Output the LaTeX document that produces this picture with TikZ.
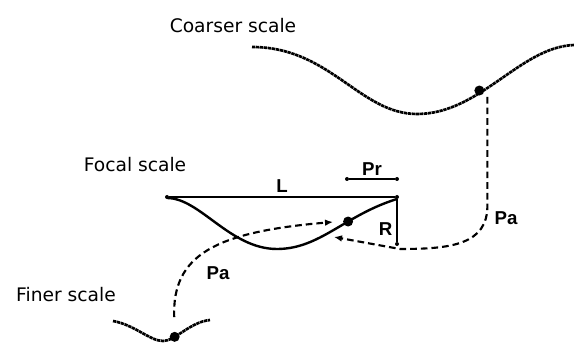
\documentclass[tikz,border=0pt]{standalone}
\usepackage{fontspec}
\setmainfont{DejaVu Sans}
\newfontfamily\labelfont{Liberation Sans}
\usepackage{tikz}
\usetikzlibrary{positioning,arrows.meta}

\begin{document}
\begin{tikzpicture}[x=0.75pt, y=-0.75pt,
  every node/.style={font=\fontsize{14}{16}\selectfont},
  scaletext/.style={inner sep=0pt},
  sym/.style={font=\labelfont\fontsize{14}{16}\selectfont\bfseries, inner sep=1pt},
  blob/.style={circle, fill, inner sep=0pt, minimum size=7.5pt},
  tick/.style={circle, fill, inner sep=0pt, minimum size=3pt},
  grainy/.style={line width=2pt, dash pattern=on 2.5pt off 0.5pt},
  jump/.style={line width=1.6pt, dash pattern=on 5pt off 3pt, -{Latex[length=6pt,width=5pt]}}]
\useasboundingbox (0,0) rectangle (574,345);

% scale names
\node[scaletext] (coarser) at (233,26) {Coarser scale};
\node[scaletext] (focal) at (135,165) {Focal scale};
\node[scaletext] (finer) at (66,295) {Finer scale};

% the three signals
\draw[grainy] (252,47) .. controls (330,47) and (360,114) .. (417,114)
  .. controls (480,114) and (520,47) .. (574,45) node[blob, pos=0.37, yshift=2pt] (coarsedot) {};
\draw[line width=1.8pt] (167,198) .. controls (200,198) and (230,249) .. (277,249)
  .. controls (320,249) and (345,215) .. (397,199) node[blob, pos=0.63] (focaldot) {};
\draw[grainy] (113,321) .. controls (135,325) and (150,341) .. (163,341)
  .. controls (175,341) and (190,322) .. (210,320) node[blob, pos=0.3] (finedot) {};

% measures on the focal scale
\node[tick] (Lw) at (167,197) {};
\node[tick] (Le) at (397,197) {};
\node[tick] (Prw) at (347,179) {};
\node[tick] (Pre) at (397,179) {};
\node[tick] (Rs) at (397,244) {};
\draw[line width=0.8pt] (Lw) -- (Le) node[sym, midway, above=2pt] {L};
\draw[line width=0.8pt] (Prw) -- (Pre) node[sym, midway, above=1pt] {Pr};
\draw[line width=0.8pt] (Le) -- (Rs) node[sym, pos=0.7, left=2pt] {R};

% jumps between scales
\coordinate (focalhit) at (334,237);
\coordinate (focaltip) at (333,222);
\draw[jump] ([xshift=6pt]coarsedot.south) -- ([xshift=6pt]coarsedot.south |- 0,205)
  .. controls (488,245) and (450,249) .. (400,249) -- (focalhit);
\draw[jump, shorten <=10pt] (finedot.north) .. controls (172,255) and (215,232) .. (focaltip);
\node[sym] (pacoarse) at (506,218) {Pa};
\node[sym] (pafine) at (218,273) {Pa};
\end{tikzpicture}
\end{document}
